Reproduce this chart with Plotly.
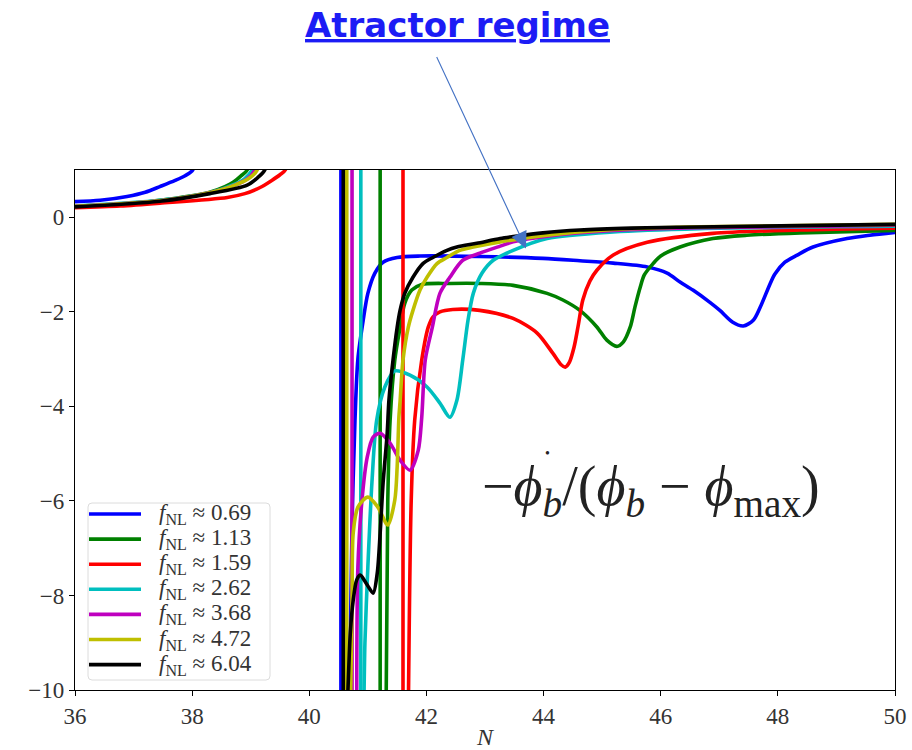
import plotly.graph_objects as go

# ---------------- data ----------------
labels = ["0.69", "1.13", "1.59", "2.62", "3.68", "4.72", "6.04"]
colors = ["#0000ff", "#008000", "#ff0000", "#00bfbf", "#bf00bf", "#bfbf00", "#000000"]

# pole position (where the curve jumps from +inf to -inf)
poles = [40.54, 41.21, 41.60, 40.88, 40.73, 40.64, 40.58]

# left branches (run off the top of the frame)
blue_left_x = [36.0, 36.43, 36.89, 37.20, 37.45, 37.71, 37.88, 38.01, 38.08]
blue_left_y = [0.33, 0.36, 0.44, 0.53, 0.65, 0.78, 0.88, 1.0, 1.6]
green_left_x = [36.0, 36.77, 37.45, 37.96, 38.30, 38.56, 38.70, 38.83, 38.94, 38.99]
green_left_y = [0.22, 0.27, 0.36, 0.45, 0.53, 0.65, 0.74, 0.87, 1.0, 1.6]
red_left_x = [36.0, 36.77, 37.45, 38.60, 38.90, 39.16, 39.36, 39.50, 39.59, 39.64]
red_left_y = [0.20, 0.24, 0.30, 0.42, 0.50, 0.63, 0.78, 0.90, 1.0, 1.6]
cyan_left_x = [36.0, 37.45, 38.30, 38.73, 38.90, 39.02, 39.07]
cyan_left_y = [0.24, 0.36, 0.52, 0.70, 0.82, 1.0, 1.6]
magenta_left_x = [36.0, 37.45, 38.30, 38.73, 38.95, 39.07, 39.12]
magenta_left_y = [0.23, 0.35, 0.52, 0.68, 0.82, 1.0, 1.6]
yellow_left_x = [36.0, 37.45, 38.30, 38.73, 38.99, 39.11, 39.16]
yellow_left_y = [0.23, 0.35, 0.52, 0.68, 0.84, 1.0, 1.6]
black_left_x = [36.0, 37.45, 38.30, 38.94, 39.12, 39.24, 39.29]
black_left_y = [0.22, 0.34, 0.50, 0.68, 0.84, 1.0, 1.6]

# right branches (rise from below the frame)
blue_right_x = [40.68, 40.73, 40.78, 40.83, 40.92, 41.00, 41.12, 41.26, 41.50, 41.89, 42.91,
                43.99, 44.62, 45.19, 45.77, 46.11, 46.33, 46.55, 46.84, 47.01, 47.23, 47.41,
                47.58, 47.70, 47.87, 47.95, 48.12, 48.33, 48.60, 49.18, 49.57, 50.0]
blue_right_y = [-10.6, -6.5, -4.3, -3.0, -2.18, -1.61, -1.18, -0.95, -0.85, -0.82, -0.83,
                -0.87, -0.92, -0.97, -1.05, -1.18, -1.37, -1.54, -1.80, -1.97, -2.22, -2.30,
                -2.18, -1.90, -1.40, -1.20, -0.95, -0.80, -0.63, -0.45, -0.38, -0.32]
green_right_x = [41.31, 41.34, 41.38, 41.46, 41.55, 41.63, 41.75, 41.92, 42.40, 42.91, 43.48,
                 44.06, 44.33, 44.62, 44.91, 45.08, 45.25, 45.36, 45.48, 45.56, 45.65, 45.72,
                 45.87, 46.00, 46.33, 46.89, 47.47, 48.38, 50.0]
green_right_y = [-10.6, -6.0, -4.29, -3.02, -2.33, -1.82, -1.54, -1.42, -1.40, -1.40, -1.44,
                 -1.61, -1.75, -1.97, -2.32, -2.60, -2.73, -2.64, -2.32, -1.90, -1.48, -1.22,
                 -0.98, -0.82, -0.63, -0.45, -0.38, -0.33, -0.28]
red_right_x = [41.69, 41.74, 41.80, 41.92, 42.03, 42.11, 42.23, 42.45, 42.91, 43.48, 43.89,
               44.16, 44.30, 44.37, 44.44, 44.52, 44.59, 44.67, 44.79, 44.91, 45.19, 45.77,
               46.89, 48.38, 50.0]
red_right_y = [-10.6, -6.0, -4.29, -3.02, -2.33, -2.11, -2.0, -1.95, -1.97, -2.14, -2.45,
               -2.88, -3.12, -3.17, -3.07, -2.75, -2.30, -1.75, -1.35, -1.12, -0.80, -0.53,
               -0.34, -0.27, -0.23]
cyan_right_x = [40.93, 40.95, 41.00, 41.07, 41.15, 41.29, 41.46, 41.72, 42.01, 42.23, 42.40,
                42.52, 42.62, 42.71, 42.80, 42.95, 43.14, 43.48, 44.06, 45.19, 46.67, 50.0]
cyan_right_y = [-10.6, -9.0, -7.4, -5.6, -4.3, -3.59, -3.25, -3.34, -3.59, -3.93, -4.23,
                -3.87, -3.02, -2.18, -1.61, -1.18, -0.91, -0.70, -0.45, -0.31, -0.24, -0.19]
magenta_right_x = [40.81, 40.83, 40.90, 40.99, 41.09, 41.21, 41.38, 41.55, 41.72, 41.86, 41.92,
                   41.98, 42.10, 42.23, 42.40, 42.62, 42.91, 43.26, 43.48, 44.06, 45.19, 46.67,
                   50.0]
magenta_right_y = [-10.6, -7.4, -5.98, -5.07, -4.65, -4.57, -4.78, -5.14, -5.35, -4.93, -4.23,
                   -3.02, -2.33, -1.61, -1.27, -0.91, -0.76, -0.61, -0.52, -0.40, -0.28, -0.22,
                   -0.17]
yellow_right_x = [40.70, 40.73, 40.75, 40.83, 41.00, 41.17, 41.34, 41.46, 41.50, 41.53, 41.55,
                  41.60, 41.69, 41.77, 41.89, 42.01, 42.18, 42.35, 42.57, 42.80, 43.26, 44.06,
                  45.19, 46.67, 50.0]
yellow_right_y = [-10.6, -8.1, -6.68, -6.13, -5.92, -6.13, -6.51, -5.98, -5.29, -4.23, -3.9,
                  -3.02, -2.33, -1.97, -1.54, -1.27, -0.98, -0.85, -0.70, -0.63, -0.52, -0.38,
                  -0.26, -0.20, -0.15]
black_right_x = [40.64, 40.66, 40.70, 40.75, 40.81, 40.87, 40.99, 41.09, 41.16, 41.21, 41.26,
                 41.33, 41.36, 41.43, 41.50, 41.55, 41.63, 41.77, 41.94, 42.11, 42.35, 42.52,
                 42.86, 43.26, 43.48, 43.99, 44.62, 45.50, 46.33, 50.0]
black_right_y = [-10.6, -10.0, -8.8, -8.1, -7.67, -7.57, -7.78, -7.95, -7.53, -6.68, -5.62,
                 -4.57, -3.87, -3.02, -2.33, -1.97, -1.61, -1.27, -0.98, -0.85, -0.70, -0.63,
                 -0.55, -0.45, -0.41, -0.33, -0.27, -0.23, -0.21, -0.15]

left_x = [blue_left_x, green_left_x, red_left_x, cyan_left_x, magenta_left_x, yellow_left_x, black_left_x]
left_y = [blue_left_y, green_left_y, red_left_y, cyan_left_y, magenta_left_y, yellow_left_y, black_left_y]
right_x = [blue_right_x, green_right_x, red_right_x, cyan_right_x, magenta_right_x, yellow_right_x, black_right_x]
right_y = [blue_right_y, green_right_y, red_right_y, cyan_right_y, magenta_right_y, yellow_right_y, black_right_y]

x_ticks = [36, 38, 40, 42, 44, 46, 48, 50]
y_ticks = [0, -2, -4, -6, -8, -10]
y_tick_text = ["0", "\u22122", "\u22124", "\u22126", "\u22128", "\u221210"]
y_off_top, y_off_bottom = 1.6, -10.6   # just outside the frame

# ---------------- figure ----------------
SERIF = "Liberation Serif, DejaVu Serif, serif"
LW = 3.6
W, H = 912, 750
ML, MR, MT, MB = 75, 17, 170, 60
PW, PH = W - ML - MR, H - MT - MB


def px2paper(px, py):
    return (px - ML) / PW, (H - MB - py) / PH


fig = go.Figure()
for i, (lab, col) in enumerate(zip(labels, colors)):
    fig.add_trace(go.Scatter(
        x=left_x[i], y=left_y[i], mode="lines", showlegend=False, hoverinfo="skip",
        line=dict(color=col, width=LW, shape="spline", smoothing=0.8)))
    fig.add_trace(go.Scatter(
        x=[poles[i], poles[i]], y=[y_off_top, y_off_bottom], mode="lines",
        showlegend=False, hoverinfo="skip", line=dict(color=col, width=LW)))
    fig.add_trace(go.Scatter(
        x=right_x[i], y=right_y[i], mode="lines", showlegend=False, hoverinfo="skip",
        line=dict(color=col, width=LW, shape="spline", smoothing=0.8)))

fig.update_layout(
    width=W, height=H, autosize=False,
    margin=dict(l=ML, r=MR, t=MT, b=MB),
    paper_bgcolor="white", plot_bgcolor="white",
    font=dict(family=SERIF, color="#222"),
    showlegend=False,
    xaxis=dict(
        range=[36, 50], tickvals=x_ticks, ticktext=[str(v) for v in x_ticks],
        showgrid=False, zeroline=False, automargin=False,
        showline=True, mirror=True, linecolor="black", linewidth=1.3,
        ticks="outside", ticklen=5, tickwidth=1.3, tickcolor="black",
        tickfont=dict(family=SERIF, size=23, color="#333"),
        title=dict(text="<i>N</i>", font=dict(family=SERIF, size=24, color="#333"), standoff=3),
    ),
    yaxis=dict(
        range=[-10, 1], tickvals=y_ticks, ticktext=y_tick_text,
        showgrid=False, zeroline=False, automargin=False,
        showline=True, mirror=True, linecolor="black", linewidth=1.3,
        ticks="outside", ticklen=5, tickwidth=1.3, tickcolor="black",
        tickfont=dict(family=SERIF, size=23, color="#333"),
    ),
)

# ---- legend box (drawn by hand to match matplotlib's compact layout) ----
bx0, by0 = px2paper(88, 680)
bx1, by1 = px2paper(270, 503)
rx, ry = 4 / PW, 4 / PH
path = (f"M {bx0+rx},{by0} L {bx1-rx},{by0} Q {bx1},{by0} {bx1},{by0+ry} "
        f"L {bx1},{by1-ry} Q {bx1},{by1} {bx1-rx},{by1} L {bx0+rx},{by1} "
        f"Q {bx0},{by1} {bx0},{by1-ry} L {bx0},{by0+ry} Q {bx0},{by0} {bx0+rx},{by0} Z")
fig.add_shape(type="path", path=path, xref="paper", yref="paper",
              fillcolor="rgba(255,255,255,0.9)", line=dict(color="#dcdcdc", width=1))
for i, (lab, col) in enumerate(zip(labels, colors)):
    ypx = 514 + i * 25.1
    lx0, ly = px2paper(89, ypx)
    lx1, _ = px2paper(141, ypx)
    tx, ty = px2paper(157, ypx)
    fig.add_shape(type="line", xref="paper", yref="paper", x0=lx0, x1=lx1, y0=ly, y1=ly,
                  line=dict(color=col, width=LW))
    fig.add_annotation(xref="paper", yref="paper", x=tx, y=ty, xanchor="left", yanchor="middle",
                       text="<i>f</i><sub>NL</sub> \u2248 " + lab, showarrow=False,
                       font=dict(family=SERIF, size=23, color="#333"))

# formula label
fx, fy = px2paper(651, 490)
fig.add_annotation(
    xref="paper", yref="paper", x=fx, y=fy, xanchor="center", yanchor="middle",
    text="\u2212<i>\u03d5</i><sub><i>b</i></sub>/(<i>\u03d5</i><sub><i>b</i></sub> \u2212 <i>\u03d5</i><sub>max</sub>)",
    showarrow=False, font=dict(family=SERIF, size=56, color="#222"),
)
# time-derivative dot over the first phi
dx, dy = px2paper(547, 453)
fig.add_annotation(
    xref="paper", yref="paper", x=dx, y=dy, xanchor="center", yanchor="middle",
    text="\u2022", showarrow=False, font=dict(family=SERIF, size=14, color="#222"),
)

# arrow
fig.add_annotation(
    x=43.70, y=-0.66, xref="x", yref="y", ax=-90, ay=-193, axref="pixel", ayref="pixel",
    text="", showarrow=True, arrowhead=2, arrowsize=3, arrowwidth=1.1, arrowcolor="#4472C4",
)

# title
tx, ty = px2paper(457, 25)
fig.add_annotation(
    xref="paper", yref="paper", x=tx, y=ty, xanchor="center", yanchor="middle",
    text="<u><b>Atractor regime</b></u>", showarrow=False,
    font=dict(family="DejaVu Sans", size=34, color="#1c1cf5"),
)

fig.write_html("out.html")
